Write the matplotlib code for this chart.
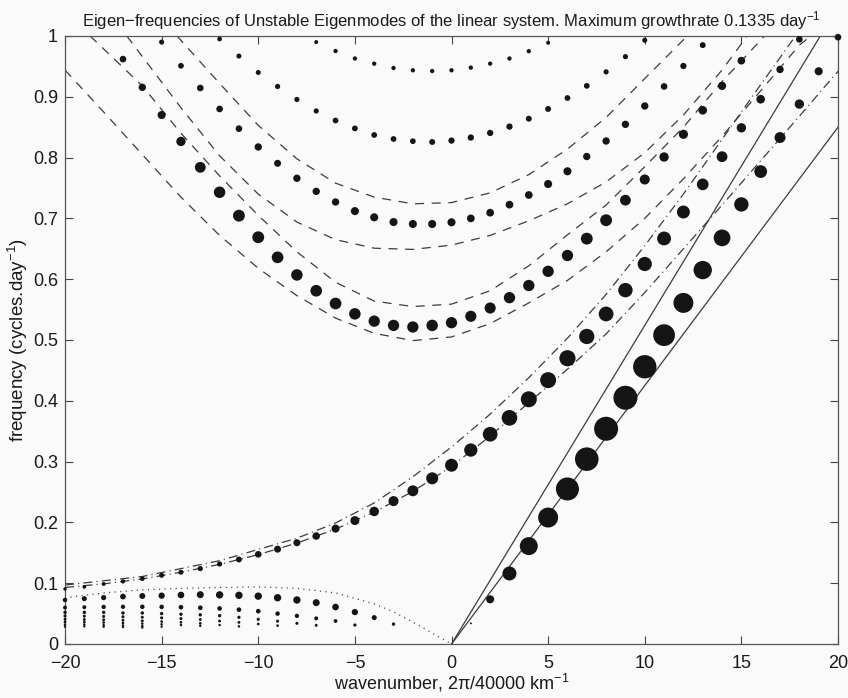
import matplotlib
matplotlib.use('Agg')
import matplotlib.pyplot as plt
import numpy as np

plt.rcParams['font.family'] = ['Liberation Sans', 'DejaVu Sans']
plt.rcParams['mathtext.fontset'] = 'custom'
plt.rcParams['mathtext.rm'] = 'Liberation Sans'
plt.rcParams['mathtext.it'] = 'Liberation Sans:italic'
plt.rcParams['lines.scale_dashes'] = False

# ---------------- data ----------------
# growth rates are in units of 1e-3 day^-1 (max 133.5)
kelvin_k = list(range(1, 21))
kelvin_f = [0.034, 0.0735, 0.116, 0.161, 0.208, 0.255, 0.304, 0.354, 0.405, 0.456,
            0.508, 0.561, 0.615, 0.668, 0.723, 0.777, 0.833, 0.888, 0.942, 0.998]
kelvin_g = [11, 45, 78, 100, 111, 128, 131, 133.5, 133.5, 130,
            121, 111, 102, 93, 80, 71, 61, 52, 45, 37]

mrg_k = list(range(-20, 19))
mrg_f = [0.0905, 0.094, 0.0987, 0.103, 0.1075, 0.113, 0.118, 0.124, 0.1316, 0.139,
         0.1475, 0.156, 0.1666, 0.1776, 0.1898, 0.203, 0.218, 0.235, 0.252, 0.2725,
         0.294, 0.319, 0.345, 0.372, 0.4025, 0.434, 0.47, 0.5058, 0.5428, 0.582,
         0.625, 0.667, 0.7105, 0.756, 0.8015, 0.849, 0.896, 0.945, 0.9945]
mrg_g = [19, 21, 22, 24, 26, 28, 28, 29, 29, 33,
         37, 39, 39, 42, 45, 50, 53, 56, 61, 67,
         72, 74, 82, 87, 89, 89, 90, 85, 82, 80,
         79, 77, 72, 65, 60, 52, 48, 41, 37]

ig1_k = list(range(-17, 16))
ig1_f = [0.962, 0.9156, 0.87, 0.8266, 0.784, 0.743, 0.7045, 0.669, 0.636, 0.607,
         0.581, 0.560, 0.543, 0.531, 0.524, 0.5214, 0.524, 0.5285, 0.539, 0.5526,
         0.5696, 0.5896, 0.613, 0.639, 0.6667, 0.697, 0.730, 0.764, 0.801, 0.8383,
         0.8778, 0.918, 0.9594]
ig1_g = [37, 41, 45, 52, 60, 64, 66, 66, 65, 64,
         65, 65, 64, 63, 63, 63, 64, 63, 62, 62,
         63, 63, 63, 63, 66, 66, 60, 56, 52, 51,
         48, 46, 43]

ig2_k = list(range(-15, 14))
ig2_f = [0.99, 0.951, 0.9145, 0.88, 0.8476, 0.8175, 0.7906, 0.766, 0.7445, 0.727,
         0.712, 0.7018, 0.694, 0.6908, 0.6908, 0.6936, 0.700, 0.7094, 0.7226, 0.7385,
         0.7566, 0.7775, 0.8018, 0.8273, 0.8547, 0.8849, 0.917, 0.9507, 0.985]
ig2_g = [28, 32, 37, 37, 37, 41, 39, 41, 41, 41,
         45, 45, 45, 45, 45, 45, 43, 43, 43, 43,
         45, 45, 41, 41, 41, 41, 37, 35, 33]

ig3_k = list(range(-12, 11))
ig3_f = [0.995, 0.967, 0.940, 0.917, 0.8956, 0.8767, 0.861, 0.848, 0.8372, 0.8306,
         0.827, 0.8257, 0.828, 0.833, 0.8405, 0.851, 0.864, 0.88, 0.898, 0.918,
         0.941, 0.966, 0.993]
ig3_g = [26, 28, 28, 29, 29, 29, 32, 32, 32, 32,
         32, 33, 35, 35, 35, 35, 33, 33, 32, 32,
         29, 29, 28]

ig4_k = list(range(-7, 6))
ig4_f = [0.99, 0.9753, 0.963, 0.9545, 0.9474, 0.9436, 0.9424, 0.9436, 0.948, 0.9545,
         0.963, 0.975, 0.989]
ig4_g = [22, 24, 24, 24, 24, 24, 24, 24, 24, 24, 24, 24, 22]

# Rossby families (wavenumbers -20 ... )
r1_k = list(range(-20, -2))
r1_f = [0.0724, 0.0746, 0.0763, 0.078, 0.079, 0.0795, 0.0806, 0.0811, 0.0808, 0.0801,
        0.0787, 0.0761, 0.0724, 0.068, 0.0608, 0.0525, 0.0434, 0.0327]
r1_g = [25, 28, 29, 32, 33, 35, 37, 39, 41, 41, 41, 41, 41, 39, 37, 35, 28, 19]

r2_k = list(range(-20, -4))
r2_f = [0.060, 0.0605, 0.061, 0.0612, 0.0612, 0.061, 0.0605, 0.0596, 0.0585, 0.0565,
        0.054, 0.050, 0.0463, 0.0422, 0.0378, 0.0312]
r2_g = [22, 22, 24, 24, 25, 25, 26, 26, 26, 26, 26, 25, 24, 22, 21, 18]

r3_k = list(range(-20, -6))
r3_f = [0.052, 0.052, 0.052, 0.051, 0.051, 0.050, 0.049, 0.048, 0.0466, 0.0439,
        0.0406, 0.0375, 0.034, 0.0307]
r3_g = [19, 19, 19, 19, 19, 19, 19, 19, 19, 18, 18, 17, 17, 16]

r4_k = list(range(-20, -8))
r4_f = [0.0461, 0.0458, 0.0454, 0.0448, 0.044, 0.043, 0.0418, 0.0402, 0.0378, 0.0356,
        0.0329, 0.0302]
r4_g = [17, 17, 17, 17, 17, 17, 17, 16, 16, 16, 15, 15]

r5_k = list(range(-20, -10))
r5_f = [0.0406, 0.0403, 0.0398, 0.039, 0.038, 0.037, 0.0357, 0.034, 0.0312, 0.029]
r5_g = [16, 16, 16, 16, 16, 15, 15, 15, 14, 14]

r6_k = list(range(-20, -12))
r6_f = [0.0362, 0.036, 0.0353, 0.0345, 0.0335, 0.0324, 0.0312, 0.030]
r6_g = [15, 15, 15, 15, 14, 14, 14, 14]

r7_k = list(range(-20, -14))
r7_f = [0.0318, 0.032, 0.031, 0.0305, 0.0295, 0.0285]
r7_g = [14, 14, 14, 14, 14, 13]

r8_k = list(range(-20, -15))
r8_f = [0.0285, 0.029, 0.0283, 0.0278, 0.027]
r8_g = [13, 13, 13, 13, 13]

# theoretical curves
kel_hi_k = [0, 20]
kel_hi_f = [0, 1.048]
kel_lo_k = [0, 20]
kel_lo_f = [0, 0.85]

l1_k = [-20, -18, -16, -14, -12, -10, -8, -6, -4, -2, 0, 2, 4, 6, 8, 10, 12, 14, 16, 18, 18.6]
l1_f = [0.944, 0.875, 0.805, 0.735, 0.672, 0.618, 0.573, 0.536, 0.511, 0.499, 0.505,
        0.527, 0.561, 0.598, 0.645, 0.700, 0.765, 0.835, 0.91, 0.985, 1.0]
u1_k = [-18.7, -16, -14, -12, -10, -8, -6, -4, -2, 0, 2, 4, 6, 8, 10, 12, 14, 16.2]
u1_f = [1.0, 0.918, 0.840, 0.770, 0.705, 0.645, 0.595, 0.564, 0.555, 0.559, 0.581,
        0.622, 0.673, 0.722, 0.785, 0.85, 0.925, 1.0]
l2_k = [-16.8, -14, -12, -10, -8, -6, -4, -2, 0, 2, 4, 6, 8, 10, 12, 14, 15.3]
l2_f = [1.0, 0.882, 0.803, 0.74, 0.694, 0.665, 0.651, 0.649, 0.656, 0.672, 0.696,
        0.724, 0.76, 0.808, 0.87, 0.944, 1.0]
u2_k = [-14.2, -12, -10, -8, -6, -4, -2, 0, 2, 4, 6, 8, 10, 12.2]
u2_f = [1.0, 0.922, 0.853, 0.798, 0.758, 0.735, 0.724, 0.726, 0.742, 0.772, 0.814,
        0.866, 0.93, 1.0]
mlo_k = [-20, -18, -16, -14, -12, -10, -8, -6, -4, -2, 0, 2, 4, 6, 8, 10, 12, 14, 16, 18, 20]
mlo_f = [0.093, 0.099, 0.107, 0.118, 0.131, 0.147, 0.166, 0.189, 0.217, 0.251, 0.292,
         0.342, 0.397, 0.452, 0.51, 0.578, 0.650, 0.722, 0.795, 0.868, 0.942]
mup_k = [-20, -16, -12, -8, -6, -4, -2, 0, 2, 4, 6, 8, 10, 12, 14, 16, 17.8]
mup_f = [0.097, 0.111, 0.137, 0.174, 0.199, 0.232, 0.275, 0.324, 0.378, 0.438, 0.503,
         0.575, 0.655, 0.74, 0.83, 0.92, 1.0]
ross_k = [-20, -18, -16, -14, -12, -10, -8, -6, -4, -3, -2, -1, 0]
ross_f = [0.076, 0.084, 0.089, 0.0915, 0.093, 0.094, 0.0915, 0.084, 0.066, 0.053, 0.036, 0.018, 0.0]

xticks = [-20, -15, -10, -5, 0, 5, 10, 15, 20]
yticks = [0, 0.1, 0.2, 0.3, 0.4, 0.5, 0.6, 0.7, 0.8, 0.9, 1.0]
ytick_labels = ['0', '0.1', '0.2', '0.3', '0.4', '0.5', '0.6', '0.7', '0.8', '0.9', '1']
gmax = 133.5

# ---------------- figure ----------------
bg = '#fafafa'
fig = plt.figure(figsize=(8.48, 6.98), dpi=100, facecolor=bg)
ax = fig.add_axes([65 / 848, 54 / 698, 773 / 848, 608 / 698], facecolor=bg)

lc = '#3c3c3c'
lw = 0.9
ax.plot(kel_hi_k, kel_hi_f, '-', color=lc, lw=lw)
ax.plot(kel_lo_k, kel_lo_f, '-', color=lc, lw=lw)
for kk, ff in [(l1_k, l1_f), (u1_k, u1_f), (l2_k, l2_f), (u2_k, u2_f)]:
    ax.plot(kk, ff, color=lc, lw=lw, dashes=(6.5, 5.5))
for kk, ff in [(mlo_k, mlo_f), (mup_k, mup_f)]:
    ax.plot(kk, ff, color=lc, lw=lw, dashes=(6.5, 3.0, 0.8, 3.0))
ax.plot(ross_k, ross_f, color=lc, lw=lw, dashes=(0.8, 3.2))

def px2pt(d):
    return d * 72.0 / 100.0

dot_series = [(kelvin_k, kelvin_f, kelvin_g), (mrg_k, mrg_f, mrg_g),
              (ig1_k, ig1_f, ig1_g), (ig2_k, ig2_f, ig2_g), (ig3_k, ig3_f, ig3_g),
              (ig4_k, ig4_f, ig4_g), (r1_k, r1_f, r1_g), (r2_k, r2_f, r2_g),
              (r3_k, r3_f, r3_g), (r4_k, r4_f, r4_g), (r5_k, r5_f, r5_g),
              (r6_k, r6_f, r6_g), (r7_k, r7_f, r7_g), (r8_k, r8_f, r8_g)]
for kk, ff, gg in dot_series:
    d_px = np.asarray(gg, dtype=float) / gmax * 24.0
    ax.scatter(kk, ff, s=px2pt(d_px) ** 2, c='#151515', linewidths=0,
               zorder=3, clip_on=False)

ax.set_xlim(-20, 20)
ax.set_ylim(0, 1)
ax.set_xticks(xticks)
ax.set_yticks(yticks)
ax.set_yticklabels(ytick_labels)
ax.tick_params(direction='in', length=6, width=0.8, colors='#444444',
               labelcolor='#1a1a1a', labelsize=13, top=True, right=True)
ax.tick_params(axis='x', pad=7.8)
ax.tick_params(axis='y', pad=5)
for s in ax.spines.values():
    s.set_color('#555555')
    s.set_linewidth(0.9)

ax.set_title('Eigen\u2212frequencies of Unstable Eigenmodes of the linear system. '
             'Maximum growthrate 0.1335 day$^{-1}$', fontsize=12, color='#1a1a1a', pad=7)
ax.set_xlabel('wavenumber, 2\u03c0/40000 km$^{-1}$', fontsize=13, color='#1a1a1a', labelpad=0)
ax.set_ylabel('frequency (cycles.day$^{-1}$)', fontsize=13.5, color='#1a1a1a', labelpad=2)

fig.savefig('out.png', dpi=100, facecolor=bg)
